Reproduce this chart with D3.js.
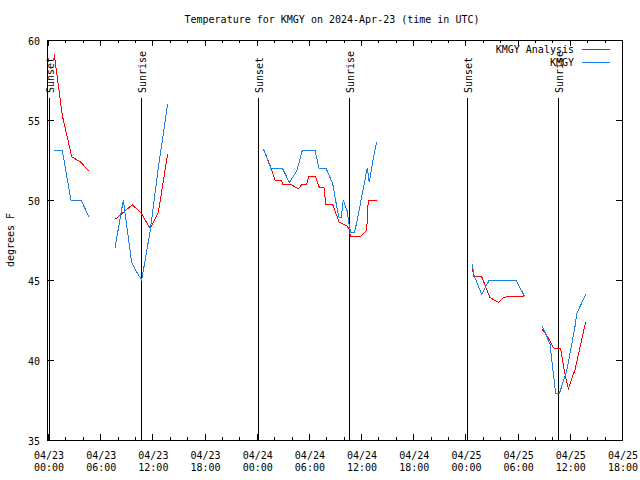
<!DOCTYPE html>
<html><head><meta charset="utf-8">
<script src="https://cdn.jsdelivr.net/npm/d3@7"></script>
<style>body{margin:0;background:#fff}svg{display:block}text{font-family:"DejaVu Sans Mono",monospace;font-size:10px;fill:#000}</style>
</head><body>
<svg id="c" width="640" height="480"></svg>
<script>
// hours after 2024-04-23 00:00 UTC; null = gap
const obsHours = [0.72,1.64,2.64,3.79,4.75,null,
  7.70,8.66,9.62,10.20,10.77,11.73,12.68,13.76,null,
  24.76,25.61,26.94,27.75,28.60,29.24,30.70,31.16,31.96,32.74,33.26,33.49,33.72,33.95,34.41,34.64,34.80,35.26,35.61,36.71,36.94,37.40,37.79,null,
  48.79,48.98,49.87,50.74,53.81,54.77,null,
  56.84,57.72,58.03,58.38,58.79,59.64,60.60,60.79,61.83];
const obsTemps = [53.1,53.1,50.0,50.0,48.9,null,
  47.0,50.0,46.1,45.5,45.0,48.0,52.0,56.0,null,
  53.2,52.0,52.0,51.1,51.8,53.1,53.1,52.0,52.0,51.0,49.4,48.9,48.9,50.0,49.3,48.4,48.0,48.0,48.9,52.0,51.1,52.6,53.6,null,
  46.0,45.3,44.1,45.0,45.0,44.0,null,
  42.1,41.0,39.5,37.9,37.9,39.3,42.1,42.9,44.1];
const anaHours = [0.72,1.64,2.73,3.68,4.75,null,
  7.74,9.69,10.69,11.76,12.68,13.76,null,
  24.76,25.72,26.10,26.79,26.99,27.83,28.78,29.24,29.75,29.98,30.73,31.19,31.73,31.96,32.74,33.49,34.34,34.72,34.73,35.88,36.64,36.83,37.79,null,
  48.79,48.98,49.87,50.82,51.78,52.35,53.12,53.70,54.77,null,
  56.84,57.53,58.10,58.33,58.95,59.37,59.83,60.60,61.83];
const anaTemps = [59.1,55.3,52.7,52.4,51.8,null,
  48.8,49.7,49.2,48.2,49.2,52.9,null,
  53.2,51.9,51.25,51.25,51.0,51.0,50.7,51.0,51.0,51.5,51.5,50.8,50.8,49.7,49.7,48.6,48.4,48.1,47.7,47.7,48.1,50.0,50.0,null,
  45.7,45.2,45.2,43.9,43.6,43.9,44.0,44.0,44.0,null,
  41.9,41.4,40.8,40.7,40.7,39.3,38.2,39.4,42.4];
const sunEvents = ["Sunset","Sunrise","Sunset","Sunrise","Sunset","Sunrise"];
const sunHours = [0.11,10.69,24.15,34.61,48.18,58.64];
const yTicks = [35,40,45,50,55,60];
const xTickHours = [0,6,12,18,24,30,36,42,48,54,60,66];
const xTickLabels = [["04/23","00:00"],["04/23","06:00"],["04/23","12:00"],["04/23","18:00"],
  ["04/24","00:00"],["04/24","06:00"],["04/24","12:00"],["04/24","18:00"],
  ["04/25","00:00"],["04/25","06:00"],["04/25","12:00"],["04/25","18:00"]];
const seriesNames = ["KMGY Analysis","KMGY"];
const seriesColors = ["#ff0000","#1a80e6"];
const title = "Temperature for KMGY on 2024-Apr-23 (time in UTC)";
const yLabel = "degrees F";

const t0 = Date.UTC(2024,3,23,0,0);
const toDate = h => new Date(t0 + h*3600e3);
const L=48, R=622, T=40, B=440;
const svg = d3.select("#c");
const x = d3.scaleUtc().domain([toDate(0), toDate(66)]).range([L,R]);
const y = d3.scaleLinear().domain([35,60]).range([B,T]);

svg.append("text").attr("x",332).attr("y",23).attr("text-anchor","middle").text(title);
svg.append("text").attr("transform","translate(14,240) rotate(-90)").attr("text-anchor","middle").text(yLabel);

const g = svg.append("g").attr("shape-rendering","crispEdges");
yTicks.forEach(v=>{
  const yy = Math.round(y(v))+0.5;
  g.append("line").attr("x1",L).attr("x2",L+6).attr("y1",yy).attr("y2",yy).attr("stroke","#000");
  g.append("line").attr("x1",R-6).attr("x2",R).attr("y1",yy).attr("y2",yy).attr("stroke","#000");
  svg.append("text").attr("x",40).attr("y",yy+4).attr("text-anchor","end").text(v);
});
for(let h=0;h<=66;h+=2){
  const xx = Math.round(x(toDate(h)))+0.5;
  const len = (h%6===0)?6:3;
  g.append("line").attr("x1",xx).attr("x2",xx).attr("y1",B).attr("y2",B-len).attr("stroke","#000");
  g.append("line").attr("x1",xx).attr("x2",xx).attr("y1",T).attr("y2",T+len).attr("stroke","#000");
}
xTickHours.forEach((h,i)=>{
  const xx = x(toDate(h)) + 1;
  const t = svg.append("text").attr("text-anchor","middle");
  t.append("tspan").attr("x",xx).attr("y",459).text(xTickLabels[i][0]);
  t.append("tspan").attr("x",xx).attr("y",471).text(xTickLabels[i][1]);
});

sunHours.forEach((h,i)=>{
  const xx = Math.round(x(toDate(h)))+0.5;
  g.append("line").attr("x1",xx).attr("x2",xx).attr("y1",98).attr("y2",B).attr("stroke","#000");
  svg.append("text").attr("transform",`translate(${xx+4},93) rotate(-90)`).attr("text-anchor","start").text(sunEvents[i]);
});

g.append("rect").attr("x",L-0.5).attr("y",T+0.5).attr("width",R-L+1).attr("height",B-T).attr("fill","none").attr("stroke","#000");

const mk = (hs,vs)=>hs.map((h,i)=>({h,v:vs[i]}));
const line = d3.line().defined(d=>d.h!==null && d.v!==null).x(d=>x(toDate(d.h))).y(d=>y(d.v));
svg.append("path").datum(mk(anaHours,anaTemps)).attr("d",line).attr("fill","none").attr("stroke",seriesColors[0]).attr("stroke-width",1).attr("shape-rendering","crispEdges");
svg.append("path").datum(mk(obsHours,obsTemps)).attr("d",line).attr("fill","none").attr("stroke",seriesColors[1]).attr("stroke-width",1).attr("shape-rendering","crispEdges");

seriesNames.forEach((n,i)=>{
  const yy = 49 + i*13;
  svg.append("text").attr("x",574).attr("y",yy+4).attr("text-anchor","end").text(n);
  g.append("line").attr("x1",582).attr("x2",610).attr("y1",yy+0.5).attr("y2",yy+0.5).attr("stroke",seriesColors[i]);
});
</script>
</body></html>
